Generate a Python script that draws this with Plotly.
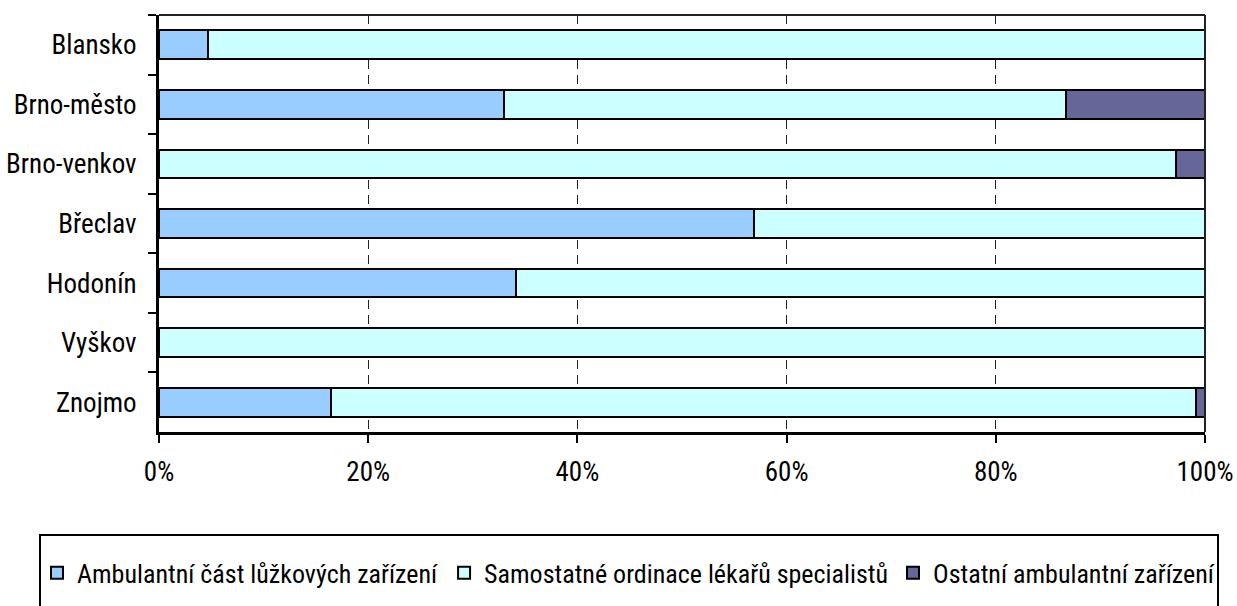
import plotly.graph_objects as go

categories = ["Blansko", "Brno-město", "Brno-venkov", "Břeclav", "Hodonín", "Vyškov", "Znojmo"]
ambulantni = [4.7, 33.0, 0.0, 56.9, 34.1, 0.0, 16.4]
samostatne = [95.3, 53.7, 97.2, 43.1, 65.9, 100.0, 82.7]
ostatni = [0.0, 13.3, 2.8, 0.0, 0.0, 0.0, 0.9]
series_names = ["Ambulantní část lůžkových zařízení",
                "Samostatné ordinace lékařů specialistů",
                "Ostatní ambulantní zařízení"]
colors = ["#99CCFF", "#CCFFFF", "#666699"]
x_ticks = [0, 20, 40, 60, 80, 100]
x_ticklabels = ["0%", "20%", "40%", "60%", "80%", "100%"]

FONT = "Roboto Condensed, Liberation Sans Narrow, Arial Narrow, sans-serif"
FS = 27
FS_LEG = 26

PW = 1046.0  # plot width in px
PH = 417.0   # plot height in px

fig = go.Figure()
for name, vals, col in zip(series_names, [ambulantni, samostatne, ostatni], colors):
    fig.add_trace(go.Bar(
        y=categories, x=vals, name=name, orientation="h",
        marker=dict(color=col, line=dict(color="black", width=2)),
    ))

fig.update_layout(
    barmode="stack",
    bargap=0.52,
    width=1237, height=606,
    margin=dict(l=159, r=32, t=15, b=174, autoexpand=False),
    paper_bgcolor="white", plot_bgcolor="white",
    font=dict(family=FONT, size=FS, color="black"),
    showlegend=True,
    legend=dict(orientation="h", x=(37 - 159) / PW, xanchor="left",
                y=-0.338, yanchor="middle",
                font=dict(family=FONT, size=FS_LEG), traceorder="normal",
                itemwidth=30, bgcolor="rgba(0,0,0,0)", borderwidth=0),
    xaxis=dict(range=[0, 100], tickvals=x_ticks, ticktext=x_ticklabels,
               showgrid=True, gridcolor="#222222", griddash="9px,6px", gridwidth=1,
               showline=True, linecolor="black", linewidth=3,
               ticks="outside", ticklen=8, tickwidth=2, tickcolor="black",
               ticklabelstandoff=6, zeroline=False, fixedrange=True),
    yaxis=dict(categoryorder="array", categoryarray=categories, autorange="reversed",
               showline=True, linecolor="black", linewidth=3,
               ticks="outside", ticklen=8, tickwidth=2, tickcolor="black",
               tickson="boundaries", showgrid=False,
               ticklabelstandoff=14, fixedrange=True),
    shapes=[
        dict(type="line", xref="paper", yref="paper", x0=0, x1=1, y0=1, y1=1,
             line=dict(color="#222222", width=2)),
        dict(type="line", xref="paper", yref="paper", x0=1, x1=1, y0=0, y1=1,
             line=dict(color="#222222", width=2)),
        dict(type="rect", xref="paper", yref="paper",
             x0=(40 - 159) / PW, x1=(1218 - 159) / PW,
             y0=(432 - 620) / PH, y1=(432 - 535) / PH,
             line=dict(color="black", width=2), fillcolor="rgba(0,0,0,0)", layer="below"),
    ],
)

fig.write_html("out.html", config={"displayModeBar": False},
               post_script="document.body.style.margin='0';")
